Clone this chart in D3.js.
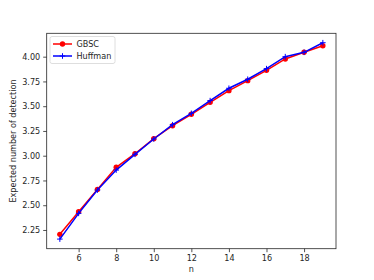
<!DOCTYPE html>
<html>
<head>
<meta charset="utf-8">
<script src="https://cdn.jsdelivr.net/npm/d3@7"></script>
<style>
  body { margin: 0; background: #fff; }
  text { font-family: "DejaVu Sans", sans-serif; fill: #262626; }
</style>
</head>
<body>
<div id="chart"></div>
<script>
// data
var n = [5, 6, 7, 8, 9, 10, 11, 12, 13, 14, 15, 16, 17, 18, 19];
var gbsc = [2.206, 2.434, 2.66, 2.883, 3.02, 3.172, 3.303, 3.418, 3.539, 3.657, 3.758, 3.862, 3.977, 4.044, 4.111];
var huffman = [2.158, 2.418, 2.653, 2.855, 3.014, 3.169, 3.313, 3.428, 3.556, 3.681, 3.772, 3.879, 4.0, 4.044, 4.141];
var xTicks = [6, 8, 10, 12, 14, 16, 18];
var yTicks = [2.25, 2.5, 2.75, 3.0, 3.25, 3.5, 3.75, 4.0];

var width = 374, height = 280;
var plotLeft = 46.7, plotRight = 336, plotTop = 33.3, plotBottom = 248.7;

var svg = d3.select("#chart")
            .append("svg")
            .attr("width", width)
            .attr("height", height);

var x = d3.scaleLinear().domain([4.3, 19.7]).range([plotLeft, plotRight]);
var y = d3.scaleLinear().domain([2.061, 4.236]).range([plotBottom, plotTop]);

// axes
var xAxis = svg.append("g")
    .attr("transform", "translate(0," + plotBottom + ")")
    .call(d3.axisBottom(x).tickValues(xTicks).tickSize(3.5).tickPadding(3));
var yAxis = svg.append("g")
    .attr("transform", "translate(" + plotLeft + ",0)")
    .call(d3.axisLeft(y).tickValues(yTicks).tickSize(3.5).tickPadding(3)
          .tickFormat(d3.format(".2f")));

[xAxis, yAxis].forEach(function(a) {
  a.select(".domain").remove();
  a.selectAll("line").attr("stroke", "#262626").attr("stroke-width", 0.8);
  a.selectAll("text").style("font-size", "8.1px").attr("fill", "#262626")
   .style("font-family", "'DejaVu Sans', sans-serif");
});

// frame
svg.append("rect")
   .attr("x", plotLeft).attr("y", plotTop)
   .attr("width", plotRight - plotLeft).attr("height", plotBottom - plotTop)
   .attr("fill", "none").attr("stroke", "#262626").attr("stroke-width", 0.8);

// axis labels
svg.append("text")
   .attr("x", (plotLeft + plotRight) / 2).attr("y", 272)
   .attr("text-anchor", "middle").style("font-size", "8.1px")
   .text("n");
svg.append("text")
   .attr("transform", "translate(16," + (plotTop + plotBottom) / 2 + ") rotate(-90)")
   .attr("text-anchor", "middle").style("font-size", "8.1px")
   .text("Expected number of detection");

var line = d3.line()
    .x(function(d) { return x(d[0]); })
    .y(function(d) { return y(d[1]); });

var series = [
  { name: "GBSC", values: gbsc, color: "#ff0000", marker: "circle" },
  { name: "Huffman", values: huffman, color: "#0000ff", marker: "plus" }
];

function drawMarkers(g, pts, s) {
  if (s.marker === "circle") {
    g.selectAll("circle").data(pts).enter().append("circle")
     .attr("cx", function(d) { return d[0]; })
     .attr("cy", function(d) { return d[1]; })
     .attr("r", 2.7)
     .attr("fill", s.color);
  } else {
    g.selectAll("path.m").data(pts).enter().append("path")
     .attr("class", "m")
     .attr("d", function(d) {
       return "M" + (d[0] - 2.8) + "," + d[1] + "h5.6M" + d[0] + "," + (d[1] - 2.8) + "v5.6";
     })
     .attr("stroke", s.color).attr("stroke-width", 1);
  }
}

series.forEach(function(s) {
  var pts = n.map(function(v, i) { return [v, s.values[i]]; });
  var g = svg.append("g");
  g.append("path")
   .attr("d", line(pts))
   .attr("fill", "none")
   .attr("stroke", s.color)
   .attr("stroke-width", 1.5);
  drawMarkers(g, pts.map(function(p) { return [x(p[0]), y(p[1])]; }), s);
});

// legend
var lg = svg.append("g");
lg.append("rect")
  .attr("x", 50).attr("y", 36.5).attr("width", 65).attr("height", 27)
  .attr("rx", 2).attr("fill", "#fff").attr("fill-opacity", 0.8)
  .attr("stroke", "#d6d6d6").attr("stroke-width", 0.8);
series.forEach(function(s, i) {
  var ly = 44 + i * 12;
  var row = lg.append("g");
  row.append("path")
     .attr("d", "M53," + ly + "h19")
     .attr("stroke", s.color).attr("stroke-width", 1.5);
  drawMarkers(row, [[62.5, ly]], s);
  row.append("text")
     .attr("x", 76.5).attr("y", ly + 3)
     .style("font-size", "8.1px")
     .text(s.name);
});
</script>
</body>
</html>
